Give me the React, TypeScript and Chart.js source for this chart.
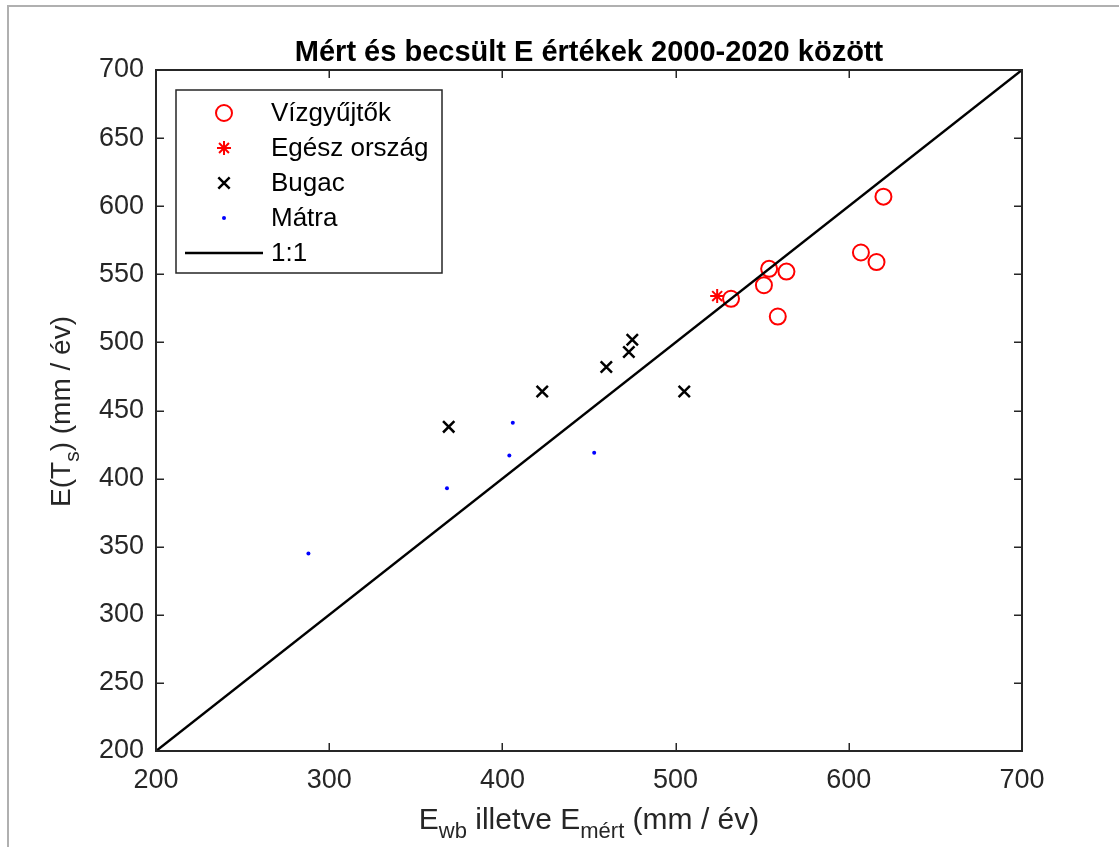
import React, { useEffect, useRef } from 'react';
import Chart from 'chart.js/auto';

// ---- data ----
const chartTitle = 'Mért és becsült E értékek 2000-2020 között';
const xTickValues = [200, 300, 400, 500, 600, 700];
const yTickValues = [200, 250, 300, 350, 400, 450, 500, 550, 600, 650, 700];

const vizgyujtokX = [532, 554, 551, 564, 559, 607, 616, 620];
const vizgyujtokY = [532, 554, 542, 552, 519, 566, 559, 607];

const orszagX = [524];
const orszagY = [534];

const bugacX = [369, 423, 460, 473, 475, 505];
const bugacY = [438, 464, 482, 493, 502, 464];

const matraX = [288, 368, 404, 406, 453];
const matraY = [345, 393, 417, 441, 419];

const oneToOneX = [200, 700];
const oneToOneY = [200, 700];

const legendLabels = ['Vízgyűjtők', 'Egész ország', 'Bugac', 'Mátra', '1:1'];

// ---- styling ----
const FONT = '"Liberation Sans", Arial, Helvetica, sans-serif';
const TEXT = '#262626';
const RED = '#ff0000';
const BLUE = '#0000ff';

const toPts = (xs: number[], ys: number[]) => xs.map((x, i) => ({ x, y: ys[i] }));

function drawMarker(ctx: CanvasRenderingContext2D, kind: number, x: number, y: number) {
  ctx.save();
  ctx.lineCap = 'butt';
  if (kind === 0) {
    ctx.strokeStyle = RED;
    ctx.lineWidth = 2;
    ctx.beginPath();
    ctx.arc(x, y, 8, 0, Math.PI * 2);
    ctx.stroke();
  } else if (kind === 1) {
    ctx.strokeStyle = RED;
    ctx.lineWidth = 2;
    const r = 7;
    const d = r * Math.SQRT1_2;
    ctx.beginPath();
    ctx.moveTo(x, y - r); ctx.lineTo(x, y + r);
    ctx.moveTo(x - r, y); ctx.lineTo(x + r, y);
    ctx.moveTo(x - d, y - d); ctx.lineTo(x + d, y + d);
    ctx.moveTo(x - d, y + d); ctx.lineTo(x + d, y - d);
    ctx.stroke();
  } else if (kind === 2) {
    ctx.strokeStyle = '#000';
    ctx.lineWidth = 2.5;
    const d = 8 * Math.SQRT1_2;
    ctx.beginPath();
    ctx.moveTo(x - d, y - d); ctx.lineTo(x + d, y + d);
    ctx.moveTo(x - d, y + d); ctx.lineTo(x + d, y - d);
    ctx.stroke();
  } else if (kind === 3) {
    ctx.fillStyle = BLUE;
    ctx.beginPath();
    ctx.arc(x, y, 2, 0, Math.PI * 2);
    ctx.fill();
  } else {
    ctx.strokeStyle = '#000';
    ctx.lineWidth = 2.5;
    ctx.beginPath();
    ctx.moveTo(185, y); ctx.lineTo(263, y);
    ctx.stroke();
  }
  ctx.restore();
}

type Seg = { t: string; sub: boolean };

function drawSegs(ctx: CanvasRenderingContext2D, segs: Seg[], cx: number, baseline: number, mainSize: number, subSize: number, subShift: number) {
  const widths = segs.map((s) => {
    ctx.font = `${s.sub ? subSize : mainSize}px ${FONT}`;
    return ctx.measureText(s.t).width;
  });
  const total = widths.reduce((a, b) => a + b, 0);
  let x = cx - total / 2;
  ctx.textAlign = 'left';
  ctx.textBaseline = 'alphabetic';
  segs.forEach((s, i) => {
    ctx.font = `${s.sub ? subSize : mainSize}px ${FONT}`;
    ctx.fillText(s.t, x, baseline + (s.sub ? subShift : 0));
    x += widths[i];
  });
}

const decorPlugin = {
  id: 'decor',
  beforeDraw(chart: any) {
    const ctx = chart.ctx as CanvasRenderingContext2D;
    ctx.save();
    ctx.fillStyle = '#fff';
    ctx.fillRect(0, 0, chart.width, chart.height);
    ctx.strokeStyle = '#b0b0b0';
    ctx.lineWidth = 2;
    ctx.beginPath();
    ctx.moveTo(8, chart.height);
    ctx.lineTo(8, 6);
    ctx.lineTo(chart.width, 6);
    ctx.stroke();
    ctx.restore();
  },
  afterDraw(chart: any) {
    const ctx = chart.ctx as CanvasRenderingContext2D;
    const { left, right, top, bottom } = chart.chartArea;
    const xs = chart.scales.x;
    const ys = chart.scales.y;
    ctx.save();
    // ticks inward on all sides
    ctx.strokeStyle = TEXT;
    ctx.lineWidth = 1.5;
    const tl = 8;
    ctx.beginPath();
    xTickValues.forEach((v) => {
      const px = Math.round(xs.getPixelForValue(v)) + 0.25;
      ctx.moveTo(px, bottom); ctx.lineTo(px, bottom - tl);
      ctx.moveTo(px, top); ctx.lineTo(px, top + tl);
    });
    yTickValues.forEach((v) => {
      const py = Math.round(ys.getPixelForValue(v)) + 0.25;
      ctx.moveTo(left, py); ctx.lineTo(left + tl, py);
      ctx.moveTo(right, py); ctx.lineTo(right - tl, py);
    });
    ctx.stroke();
    // box
    ctx.lineWidth = 2;
    ctx.strokeRect(left, top, right - left, bottom - top);

    // title
    ctx.fillStyle = '#000';
    ctx.font = `bold 29px ${FONT}`;
    ctx.textAlign = 'center';
    ctx.textBaseline = 'alphabetic';
    ctx.fillText(chartTitle, (left + right) / 2, 61);

    // x title
    ctx.fillStyle = TEXT;
    drawSegs(ctx, [
      { t: 'E', sub: false },
      { t: 'wb', sub: true },
      { t: ' illetve E', sub: false },
      { t: 'mért', sub: true },
      { t: ' (mm / év)', sub: false },
    ], (left + right) / 2, 829, 30, 22, 9);

    // y title
    ctx.save();
    ctx.translate(70, (top + bottom) / 2 + 1);
    ctx.rotate(-Math.PI / 2);
    drawSegs(ctx, [
      { t: 'E(T', sub: false },
      { t: 's', sub: true },
      { t: ') (mm / év)', sub: false },
    ], 0, 0, 28, 21, 9);
    ctx.restore();

    // legend
    ctx.fillStyle = '#fff';
    ctx.fillRect(176, 90, 266, 183);
    ctx.strokeStyle = TEXT;
    ctx.lineWidth = 1.5;
    ctx.strokeRect(176, 90, 266, 183);
    const rowY = [113, 148, 183, 218, 253];
    legendLabels.forEach((lab, i) => {
      drawMarker(ctx, i, 224, rowY[i]);
      ctx.fillStyle = '#000';
      ctx.font = `26px ${FONT}`;
      ctx.textAlign = 'left';
      ctx.textBaseline = 'middle';
      ctx.fillText(lab, 271, rowY[i] + 1);
    });
    ctx.restore();
  },
};

export default function App() {
  const ref = useRef<HTMLCanvasElement | null>(null);
  useEffect(() => {
    if (!ref.current) return;
    const chart = new Chart(ref.current, {
      type: 'scatter',
      data: {
        datasets: [
          {
            label: legendLabels[4],
            data: toPts(oneToOneX, oneToOneY),
            showLine: true,
            borderColor: '#000',
            borderWidth: 2.5,
            pointRadius: 0,
            order: 0,
          } as any,
          {
            label: legendLabels[0],
            data: toPts(vizgyujtokX, vizgyujtokY),
            pointStyle: 'circle',
            pointRadius: 8,
            pointBorderWidth: 2,
            pointBorderColor: RED,
            pointBackgroundColor: 'rgba(0,0,0,0)',
            order: 1,
          },
          {
            label: legendLabels[1],
            data: toPts(orszagX, orszagY),
            pointStyle: 'star',
            pointRadius: 7,
            pointBorderWidth: 2,
            pointBorderColor: RED,
            pointBackgroundColor: RED,
            order: 1,
          },
          {
            label: legendLabels[2],
            data: toPts(bugacX, bugacY),
            pointStyle: 'crossRot',
            pointRadius: 8,
            pointBorderWidth: 2.5,
            pointBorderColor: '#000',
            order: 1,
          },
          {
            label: legendLabels[3],
            data: toPts(matraX, matraY),
            pointStyle: 'circle',
            pointRadius: 2,
            pointBorderWidth: 0,
            pointBackgroundColor: BLUE,
            pointBorderColor: BLUE,
            order: 1,
          },
        ],
      },
      options: {
        responsive: false,
        animation: false,
        devicePixelRatio: 1,
        layout: { padding: { left: 0, right: 97, top: 70, bottom: 0 } },
        plugins: { legend: { display: false }, tooltip: { enabled: false }, title: { display: false } },
        scales: {
          x: {
            type: 'linear',
            min: 200,
            max: 700,
            afterBuildTicks: (s: any) => { s.ticks = xTickValues.map((v) => ({ value: v })); },
            afterFit: (s: any) => { s.height = 96; },
            grid: { display: false, drawTicks: false },
            border: { display: false },
            ticks: { color: TEXT, font: { family: FONT, size: 27 }, padding: 13, maxRotation: 0 },
          },
          y: {
            type: 'linear',
            min: 200,
            max: 700,
            afterBuildTicks: (s: any) => { s.ticks = yTickValues.map((v) => ({ value: v })); },
            afterFit: (s: any) => { s.width = 156; },
            grid: { display: false, drawTicks: false },
            border: { display: false },
            ticks: { color: TEXT, font: { family: FONT, size: 27 }, padding: 12 },
          },
        },
      },
      plugins: [decorPlugin],
    });
    return () => chart.destroy();
  }, []);
  return (
    <div style={{ position: 'fixed', left: 0, top: 0, width: 1119, height: 847, background: '#fff' }}>
      <canvas ref={ref} width={1119} height={847} style={{ display: 'block', width: 1119, height: 847 }} />
    </div>
  );
}
